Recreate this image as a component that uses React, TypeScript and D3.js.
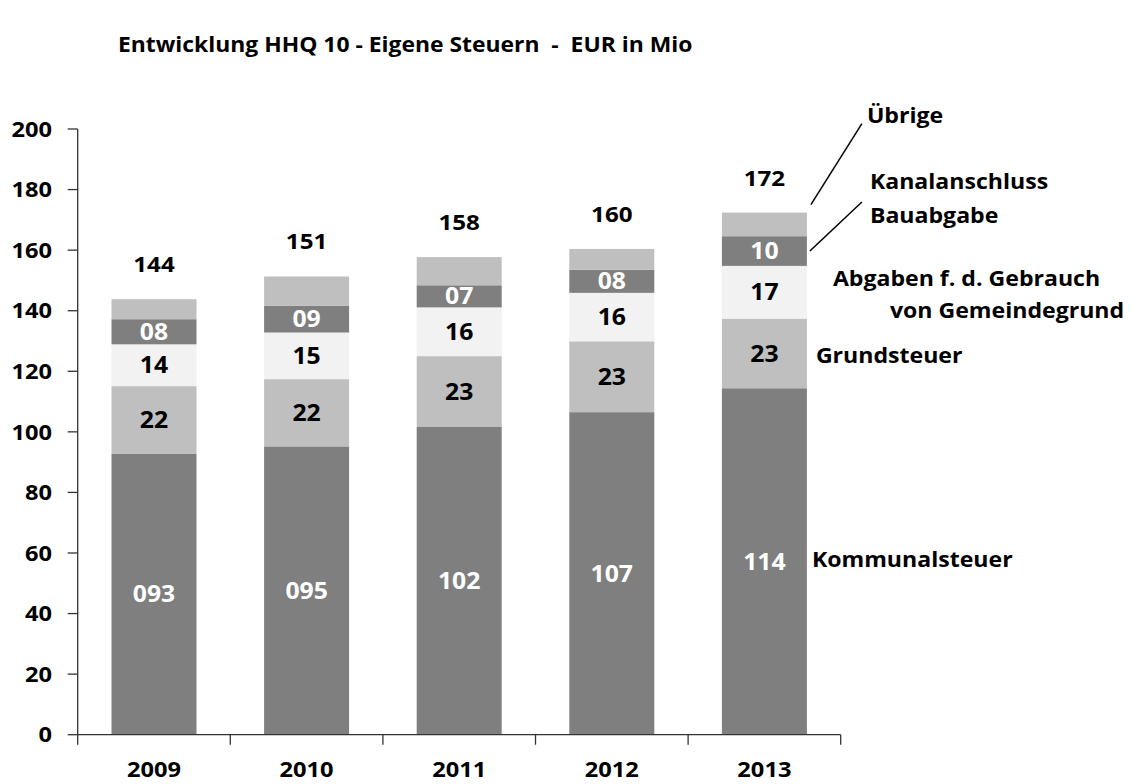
import React from 'react';
import * as d3 from 'd3';

// Werte in Mio EUR
const years = ['2009', '2010', '2011', '2012', '2013'];
const kommunalsteuer = [92.7, 95.2, 101.6, 106.5, 114.4];
const grundsteuer = [22.4, 22.2, 23.4, 23.4, 23.0];
const abgabenGemeindegrund = [13.8, 15.4, 16.1, 16.0, 17.4];
const kanalanschluss = [8.3, 8.8, 7.3, 7.6, 9.8];
const uebrige = [6.6, 9.7, 9.3, 6.9, 7.8];

const seriesKeys = ['kommunal', 'grund', 'abgaben', 'kanal', 'uebrige'];
const seriesColors = ['#7f7f7f', '#bfbfbf', '#f2f2f2', '#7f7f7f', '#bfbfbf'];
const labelColors = ['#ffffff', '#000000', '#000000', '#ffffff', null];
const labelFormats = ['03.0f', '02.0f', '02.0f', '02.0f', null];

const title = 'Entwicklung HHQ 10 - Eigene Steuern  -  EUR in Mio';

const W = 1132;
const H = 784;
const SX = 1.1; // Originalbild ist horizontal etwas gestreckt
const FONT = "'Open Sans', sans-serif";

function T({ x, y, anchor = 'middle', fill = '#000', size = 21, dy, children }) {
  return (
    <text
      transform={`translate(${x},${y}) scale(${SX},1)`}
      textAnchor={anchor}
      fill={fill}
      fontSize={size}
      fontWeight={700}
      fontFamily={FONT}
      dy={dy}
      style={{ whiteSpace: 'pre' }}
    >
      {children}
    </text>
  );
}

export default function App() {
  const left = 77.7, right = 840.7, top = 129, bottom = 734.7;

  const rows = years.map((year, i) => ({
    year,
    kommunal: kommunalsteuer[i],
    grund: grundsteuer[i],
    abgaben: abgabenGemeindegrund[i],
    kanal: kanalanschluss[i],
    uebrige: uebrige[i],
  }));

  const stack = d3.stack().keys(seriesKeys);
  const layers = stack(rows);

  const x = d3.scaleBand().domain(years).range([left, right]).paddingInner(0.443).paddingOuter(0.2215);
  const y = d3.scaleLinear().domain([0, 200]).range([bottom, top]);
  const yTicks = y.ticks(10);
  const step = x.step();
  const xTicks = d3.range(years.length + 1).map(i => left + i * step);

  const last = years.length - 1;
  const lastYear = years[last];
  const barRight = x(lastYear) + x.bandwidth();
  const mid = (k) => {
    const s = layers[k][last];
    return y((s[0] + s[1]) / 2);
  };
  const barTop = y(layers[4][last][1]);

  return (
    <svg width={W} height={H} style={{ position: 'absolute', left: 0, top: 0, background: '#fff' }}>
      <T x={118} y={52} anchor="start" size={20.8}>{title}</T>

      {layers.map((layer, k) => (
        <g key={seriesKeys[k]}>
          {layer.map((d, i) => (
            <rect
              key={years[i]}
              x={x(years[i])}
              y={y(d[1])}
              width={x.bandwidth()}
              height={y(d[0]) - y(d[1])}
              fill={seriesColors[k]}
            />
          ))}
        </g>
      ))}

      {layers.map((layer, k) =>
        labelFormats[k]
          ? layer.map((d, i) => (
              <T
                key={seriesKeys[k] + years[i]}
                x={x(years[i]) + x.bandwidth() / 2}
                y={y((d[0] + d[1]) / 2)}
                dy="0.36em"
                size={22.5}
                fill={labelColors[k]}
              >
                {d3.format(labelFormats[k])(d[1] - d[0])}
              </T>
            ))
          : null
      )}

      {layers[4].map((d, i) => (
        <T key={'tot' + years[i]} x={x(years[i]) + x.bandwidth() / 2} y={y(d[1]) - 27} size={22}>
          {d3.format('.0f')(d[1])}
        </T>
      ))}

      {/* Achsen */}
      <line x1={left} x2={left} y1={top} y2={bottom} stroke="#333" strokeWidth={1.3} />
      {yTicks.map(t => (
        <g key={t}>
          <line x1={left - 10} x2={left} y1={y(t)} y2={y(t)} stroke="#333" strokeWidth={1.3} />
          <T x={52} y={y(t)} dy="0.36em" anchor="end" size={21.5}>{t}</T>
        </g>
      ))}
      <line x1={left} x2={right} y1={bottom} y2={bottom} stroke="#333" strokeWidth={1.3} />
      {xTicks.map((t, i) => (
        <line key={i} x1={t} x2={t} y1={bottom} y2={bottom + 10} stroke="#333" strokeWidth={1.3} />
      ))}
      {years.map(yr => (
        <T key={yr} x={x(yr) + x.bandwidth() / 2} y={777} size={21.5}>{yr}</T>
      ))}

      {/* Beschriftung der Reihen rechts */}
      <line x1={barRight + 4} y1={barTop - 8} x2={barRight + 55} y2={barTop - 89} stroke="#000" strokeWidth={1.5} />
      <T x={barRight + 60} y={barTop - 90} anchor="start" size={21}>Übrige</T>
      <line x1={barRight + 3} y1={mid(3)} x2={barRight + 55} y2={mid(3) - 49} stroke="#000" strokeWidth={1.5} />
      <T x={barRight + 63} y={mid(3) - 62} anchor="start" size={21}>Kanalanschluss</T>
      <T x={barRight + 63} y={mid(3) - 28} anchor="start" size={21}>Bauabgabe</T>
      <T x={barRight + 26} y={mid(2) - 6} anchor="start" size={21}>Abgaben f. d. Gebrauch</T>
      <T x={barRight + 83} y={mid(2) + 26} anchor="start" size={21}>von Gemeindegrund</T>
      <T x={barRight + 9} y={mid(1) + 10} anchor="start" size={21}>Grundsteuer</T>
      <T x={barRight + 5} y={mid(0) + 6} anchor="start" size={21}>Kommunalsteuer</T>
    </svg>
  );
}
